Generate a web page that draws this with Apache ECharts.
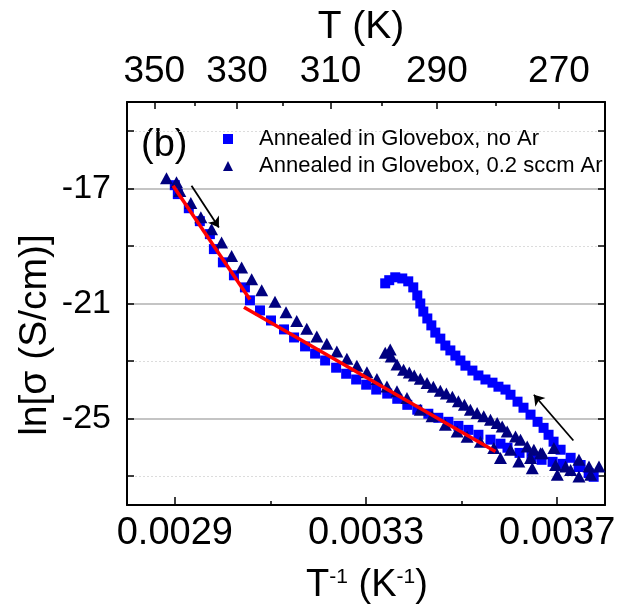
<!DOCTYPE html>
<html><head><meta charset="utf-8">
<script src="https://cdn.jsdelivr.net/npm/echarts@6/dist/echarts.min.js"></script>
<style>html,body{margin:0;padding:0;background:#fff}#c{width:628px;height:613px}</style>
</head><body><div id="c"></div>
<script>
// ---- data (x = 1/T in 1/K, y = ln sigma) ----
const noArCooling = [[0.002900,-16.89],[0.0029063,-17.20],[0.0029293,-17.69],[0.0029524,-18.14],[0.0029734,-18.59],[0.0029818,-19.11],[0.0030006,-19.57],[0.0030237,-20.02],[0.0030467,-20.44],[0.0030572,-20.89],[0.0030782,-21.24],[0.0031013,-21.59],[0.0031285,-21.90],[0.0031495,-22.18],[0.0031725,-22.49],[0.0031935,-22.74],[0.0032145,-22.98],[0.0032375,-23.23],[0.0032585,-23.44],[0.0032794,-23.64],[0.0033004,-23.82],[0.0033214,-23.99],[0.0033444,-24.13],[0.0033654,-24.31],[0.0033864,-24.52],[0.0034073,-24.69],[0.0034304,-24.83],[0.0034513,-24.97],[0.0034723,-25.11],[0.0034933,-25.25],[0.0035142,-25.39],[0.0035352,-25.56],[0.0035604,-25.73],[0.0035813,-25.87],[0.0035960,-26.01],[0.0036212,-26.19],[0.0036463,-26.33],[0.0036673,-26.43],[0.0036903,-26.50],[0.0037113,-26.57],[0.0037448,-26.68],[0.0037658,-26.89],[0.0037763,-27.02]];
const noArHeating = [[0.0037490,-26.61],[0.0037281,-26.36],[0.0037071,-26.08],[0.0036924,-25.80],[0.0036819,-25.56],[0.0036715,-25.32],[0.0036589,-25.11],[0.0036442,-24.86],[0.0036295,-24.62],[0.0036170,-24.41],[0.0036023,-24.17],[0.0035918,-23.99],[0.0035771,-23.89],[0.0035646,-23.75],[0.0035499,-23.64],[0.0035352,-23.50],[0.0035226,-23.33],[0.0035080,-23.16],[0.0034975,-22.98],[0.0034870,-22.81],[0.0034765,-22.63],[0.0034660,-22.46],[0.0034555,-22.22],[0.0034450,-22.01],[0.0034367,-21.76],[0.0034283,-21.52],[0.0034199,-21.28],[0.0034136,-21.00],[0.0034073,-20.72],[0.0033989,-20.44],[0.0033884,-20.23],[0.0033759,-20.13],[0.0033612,-20.09],[0.0033486,-20.19],[0.0033402,-20.30]];
const arCooling = [[0.0028826,-16.65],[0.0029036,-16.79],[0.0029105,-17.09],[0.0029335,-17.51],[0.0029545,-18.00],[0.0029769,-18.42],[0.0029979,-18.88],[0.0030189,-19.35],[0.0030398,-19.75],[0.0030608,-20.16],[0.0030818,-20.54],[0.0031096,-20.94],[0.0031327,-21.30],[0.0031551,-21.61],[0.0031761,-21.88],[0.0031971,-22.15],[0.0032180,-22.40],[0.0032390,-22.67],[0.0032600,-22.92],[0.0032809,-23.16],[0.0033019,-23.39],[0.0033228,-23.62],[0.0033438,-23.88],[0.0033648,-24.05],[0.0033857,-24.28],[0.0034136,-24.69],[0.0034382,-24.92],[0.0034660,-25.21],[0.0034906,-25.45],[0.0035115,-25.63],[0.0035394,-25.80],[0.0035673,-26.02],[0.0035813,-26.37],[0.0036023,-26.08],[0.0036197,-26.49],[0.0036442,-26.37],[0.0036478,-26.72],[0.0036652,-26.20],[0.0036931,-26.02],[0.0036966,-26.61],[0.0037002,-26.95],[0.0037176,-26.66],[0.0037281,-26.78],[0.0037455,-26.43],[0.0037455,-27.01],[0.0037665,-26.66],[0.0037874,-26.66],[0.0037700,-26.95]];
const arHeating = [[0.0033402,-22.71],[0.0033507,-22.60],[0.0033528,-22.84],[0.0033648,-23.12],[0.0033786,-23.30],[0.0033906,-23.40],[0.0034010,-23.50],[0.0034136,-23.61],[0.0034277,-23.76],[0.0034409,-23.89],[0.0034555,-24.03],[0.0034681,-24.13],[0.0034807,-24.24],[0.0034933,-24.40],[0.0035059,-24.52],[0.0035184,-24.69],[0.0035325,-24.80],[0.0035463,-24.92],[0.0035604,-25.04],[0.0035744,-25.15],[0.0035849,-25.27],[0.0035954,-25.45],[0.0036128,-25.62],[0.0036233,-25.73],[0.0036373,-25.97],[0.0036512,-26.08],[0.0036688,-26.20]];
const fitHigh = [[0.0028964,-16.91],[0.0030572,-20.86]];
const fitLow = [[0.0030447,-21.13],[0.0035709,-26.14]];
const arrowCool = [[0.002935,-16.91],[0.0029922,-18.36]];
const arrowHeat = [[0.0037338,-25.76],[0.0036512,-24.17]];

const seriesNames = ['Annealed in Glovebox, no Ar', 'Annealed in Glovebox, 0.2 sccm Ar'];
const xMajor = [0.0029, 0.0033, 0.0037];
const xMinor = [0.0031, 0.0035];
const yMajor = [-25, -21, -17];
const yMinor = [-27, -23, -19, -15];
const yTicks = [-27, -25, -23, -21, -19, -17, -15];
const tempMajor = [350, 330, 310, 290, 270];
const tempMinor = [340, 320, 300, 280];

const FONT = 'Liberation Sans, Arial, sans-serif';
const chart = echarts.init(document.getElementById('c'), null, {renderer: 'canvas'});

const grid = {left: 127, top: 102, width: 478, height: 403};
const baseX = {type: 'value', min: 0.0028, max: 0.0038, splitLine: {show: false}};

const gridLines = [];
xMajor.forEach(v => gridLines.push({xAxis: v, lineStyle: {color: '#b0b0b0', width: 1.5, type: 'solid'}}));
xMinor.forEach(v => gridLines.push({xAxis: v, lineStyle: {color: '#dcdcdc', width: 1, type: [2, 2]}}));
yMajor.forEach(v => gridLines.push({yAxis: v, lineStyle: {color: '#b0b0b0', width: 1.5, type: 'solid'}}));
yMinor.forEach(v => gridLines.push({yAxis: v, lineStyle: {color: '#dcdcdc', width: 1, type: [2, 2]}}));

chart.setOption({
  animation: false,
  backgroundColor: '#fff',
  textStyle: {fontFamily: FONT},
  grid: grid,
  legend: {
    orient: 'vertical', left: 218, top: 123, itemWidth: 10, itemHeight: 10, itemGap: 5,
    textStyle: {fontSize: 22, color: '#000', fontFamily: FONT, padding: [0, 0, 0, 21]},
    data: seriesNames
  },
  xAxis: [
    Object.assign({}, baseX, {
      position: 'bottom',
      axisLine: {show: true, onZero: false, lineStyle: {color: '#000', width: 2}},
      axisTick: {show: true, inside: true, length: 8, customValues: xMajor, lineStyle: {color: '#000', width: 1.5}},
      axisLabel: {customValues: xMajor, formatter: v => v.toFixed(4), fontSize: 38, color: '#000', margin: 10, fontFamily: FONT}
    }),
    Object.assign({}, baseX, {
      position: 'bottom',
      axisLine: {show: false, onZero: false},
      axisTick: {show: true, inside: true, length: 4, customValues: xMinor, lineStyle: {color: '#000', width: 1.5}},
      axisLabel: {show: false}
    }),
    Object.assign({}, baseX, {
      position: 'top',
      axisLine: {show: true, onZero: false, lineStyle: {color: '#000', width: 2}},
      axisTick: {show: true, inside: true, length: 7, customValues: tempMajor.map(t => 1 / t), lineStyle: {color: '#000', width: 1.5}},
      axisLabel: {customValues: tempMajor.map(t => 1 / t), formatter: v => String(Math.round(1 / v)), fontSize: 37, color: '#000', margin: 12, fontFamily: FONT}
    }),
    Object.assign({}, baseX, {
      position: 'top',
      axisLine: {show: false, onZero: false},
      axisTick: {show: true, inside: true, length: 4, customValues: tempMinor.map(t => 1 / t), lineStyle: {color: '#000', width: 1.5}},
      axisLabel: {show: false}
    })
  ],
  yAxis: [
    {
      type: 'value', min: -28, max: -14, position: 'left', splitLine: {show: false},
      axisLine: {show: true, onZero: false, lineStyle: {color: '#000', width: 2}},
      axisTick: {show: true, inside: true, length: 7, customValues: yTicks, lineStyle: {color: '#000', width: 1.5}},
      axisLabel: {customValues: yMajor, fontSize: 34, color: '#000', margin: 16, fontFamily: FONT}
    },
    {
      type: 'value', min: -28, max: -14, position: 'right', splitLine: {show: false},
      axisLine: {show: true, onZero: false, lineStyle: {color: '#000', width: 2}},
      axisTick: {show: true, inside: true, length: 7, customValues: yTicks, lineStyle: {color: '#000', width: 1.5}},
      axisLabel: {show: false}
    }
  ],
  graphic: [
    {type: 'text', x: 361, y: 27, style: {text: 'T (K)', fontSize: 39, fontFamily: FONT, fill: '#000', textAlign: 'center', textVerticalAlign: 'middle'}},
    {type: 'text', x: 141, y: 146, style: {text: '(b)', fontSize: 38, fontFamily: FONT, fill: '#000', textAlign: 'left', textVerticalAlign: 'middle'}},
    {type: 'text', x: 35, y: 335, rotation: Math.PI / 2, style: {text: 'ln[\u03c3 (S/cm)]', fontSize: 39, fontFamily: FONT, fill: '#000', textAlign: 'center', textVerticalAlign: 'middle'}},
    {type: 'text', x: 367, y: 586, style: {
      text: '{a|T}{s|-1}{a| (K}{s|-1}{a|)}', textAlign: 'center', textVerticalAlign: 'middle',
      rich: {a: {fontSize: 38, fontFamily: FONT, fill: '#000', color: '#000'}, s: {fontSize: 21, fontFamily: FONT, color: '#000', fill: '#000', verticalAlign: 'top'}}
    }}
  ],
  series: [
    {
      type: 'scatter', data: [], xAxisIndex: 0, yAxisIndex: 0, silent: true,
      markLine: {silent: true, symbol: 'none', z: 0, label: {show: false}, animation: false, data: gridLines}
    },
    {
      name: seriesNames[0], type: 'scatter', xAxisIndex: 0, yAxisIndex: 0, z: 3,
      symbol: 'rect', symbolSize: 10, itemStyle: {color: '#0000ff', opacity: 1},
      data: noArCooling.concat(noArHeating)
    },
    {
      name: seriesNames[1], type: 'scatter', xAxisIndex: 0, yAxisIndex: 0, z: 4,
      symbol: 'triangle', symbolSize: [13, 12], itemStyle: {color: '#00007f', opacity: 1},
      data: arCooling.concat(arHeating)
    },
    {
      type: 'line', xAxisIndex: 0, yAxisIndex: 0, z: 5, symbol: 'none', silent: true,
      lineStyle: {color: '#ff0000', width: 3.5}, data: fitHigh
    },
    {
      type: 'line', xAxisIndex: 0, yAxisIndex: 0, z: 5, symbol: 'none', silent: true,
      lineStyle: {color: '#ff0000', width: 3.5}, data: fitLow
    },
    {
      type: 'lines', coordinateSystem: 'cartesian2d', xAxisIndex: 0, yAxisIndex: 0, z: 6, silent: true,
      symbol: ['none', 'arrow'], symbolSize: 10,
      lineStyle: {color: '#000', width: 1.8, opacity: 1},
      data: [{coords: arrowCool}, {coords: arrowHeat}]
    }
  ]
});
</script>
</body></html>
